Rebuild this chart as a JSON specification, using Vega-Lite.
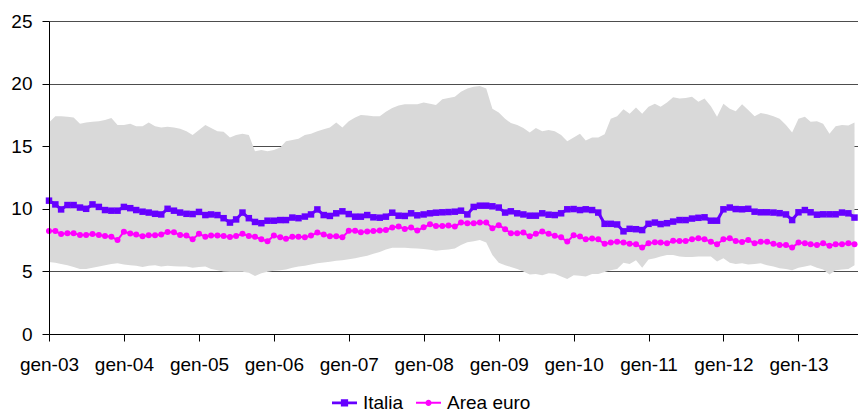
{
  "$schema": "https://vega.github.io/schema/vega-lite/v6.json",
  "width": 809,
  "height": 313,
  "autosize": {"type": "none"},
  "padding": {"left": 49, "top": 21, "right": 0, "bottom": 79},
  "background": "white",
  "config": {
    "view": {"stroke": null},
    "font": "Liberation Sans",
    "axis": {"labelFont": "Liberation Sans", "labelFontSize": 19, "labelColor": "#000000", "domainColor": "#000000", "tickColor": "#000000", "domainWidth": 1, "tickWidth": 1},
    "legend": {
      "direction": "horizontal", "title": null,
      "symbolSize": 625, "labelFontSize": 19, "labelFont": "Liberation Sans", "labelColor": "#000000",
      "labelOffset": 5, "columnPadding": 11, "padding": 0, "offset": 0
    }
  },
  "data": {"values": [
    {"mese": "2003-01-01", "min": 5.75, "max": 16.9, "Italia": 10.65, "Area euro": 8.22},
    {"mese": "2003-02-01", "min": 5.7, "max": 17.4, "Italia": 10.35, "Area euro": 8.22},
    {"mese": "2003-03-01", "min": 5.6, "max": 17.4, "Italia": 9.95, "Area euro": 7.98},
    {"mese": "2003-04-01", "min": 5.5, "max": 17.35, "Italia": 10.3, "Area euro": 8.05},
    {"mese": "2003-05-01", "min": 5.35, "max": 17.3, "Italia": 10.3, "Area euro": 8.05},
    {"mese": "2003-06-01", "min": 5.2, "max": 16.8, "Italia": 10.1, "Area euro": 7.9},
    {"mese": "2003-07-01", "min": 5.2, "max": 16.9, "Italia": 10.0, "Area euro": 7.9},
    {"mese": "2003-08-01", "min": 5.3, "max": 16.95, "Italia": 10.35, "Area euro": 7.98},
    {"mese": "2003-09-01", "min": 5.4, "max": 17.0, "Italia": 10.15, "Area euro": 7.9},
    {"mese": "2003-10-01", "min": 5.5, "max": 17.1, "Italia": 9.9, "Area euro": 7.83},
    {"mese": "2003-11-01", "min": 5.6, "max": 17.25, "Italia": 9.85, "Area euro": 7.77},
    {"mese": "2003-12-01", "min": 5.65, "max": 16.7, "Italia": 9.85, "Area euro": 7.5},
    {"mese": "2004-01-01", "min": 5.55, "max": 16.7, "Italia": 10.15, "Area euro": 8.17},
    {"mese": "2004-02-01", "min": 5.5, "max": 16.8, "Italia": 10.05, "Area euro": 8.03},
    {"mese": "2004-03-01", "min": 5.45, "max": 16.6, "Italia": 9.9, "Area euro": 7.95},
    {"mese": "2004-04-01", "min": 5.35, "max": 16.6, "Italia": 9.77, "Area euro": 7.8},
    {"mese": "2004-05-01", "min": 5.45, "max": 16.9, "Italia": 9.7, "Area euro": 7.88},
    {"mese": "2004-06-01", "min": 5.5, "max": 16.6, "Italia": 9.6, "Area euro": 7.88},
    {"mese": "2004-07-01", "min": 5.4, "max": 16.5, "Italia": 9.55, "Area euro": 7.95},
    {"mese": "2004-08-01", "min": 5.45, "max": 16.55, "Italia": 10.0, "Area euro": 8.15},
    {"mese": "2004-09-01", "min": 5.42, "max": 16.5, "Italia": 9.85, "Area euro": 8.12},
    {"mese": "2004-10-01", "min": 5.4, "max": 16.4, "Italia": 9.7, "Area euro": 7.9},
    {"mese": "2004-11-01", "min": 5.4, "max": 16.2, "Italia": 9.6, "Area euro": 7.86},
    {"mese": "2004-12-01", "min": 5.3, "max": 15.9, "Italia": 9.58, "Area euro": 7.57},
    {"mese": "2005-01-01", "min": 5.35, "max": 16.3, "Italia": 9.75, "Area euro": 8.0},
    {"mese": "2005-02-01", "min": 5.4, "max": 16.7, "Italia": 9.5, "Area euro": 7.77},
    {"mese": "2005-03-01", "min": 5.2, "max": 16.45, "Italia": 9.55, "Area euro": 7.86},
    {"mese": "2005-04-01", "min": 5.1, "max": 16.2, "Italia": 9.5, "Area euro": 7.86},
    {"mese": "2005-05-01", "min": 5.0, "max": 16.15, "Italia": 9.25, "Area euro": 7.83},
    {"mese": "2005-06-01", "min": 4.98, "max": 15.7, "Italia": 8.9, "Area euro": 7.75},
    {"mese": "2005-07-01", "min": 4.98, "max": 15.9, "Italia": 9.15, "Area euro": 7.83},
    {"mese": "2005-08-01", "min": 4.98, "max": 16.0, "Italia": 9.7, "Area euro": 8.0},
    {"mese": "2005-09-01", "min": 4.9, "max": 15.9, "Italia": 9.25, "Area euro": 7.83},
    {"mese": "2005-10-01", "min": 4.63, "max": 14.6, "Italia": 8.95, "Area euro": 7.77},
    {"mese": "2005-11-01", "min": 4.85, "max": 14.7, "Italia": 8.85, "Area euro": 7.57},
    {"mese": "2005-12-01", "min": 4.98, "max": 14.6, "Italia": 9.05, "Area euro": 7.4},
    {"mese": "2006-01-01", "min": 5.05, "max": 14.7, "Italia": 9.05, "Area euro": 7.86},
    {"mese": "2006-02-01", "min": 5.1, "max": 14.9, "Italia": 9.1, "Area euro": 7.72},
    {"mese": "2006-03-01", "min": 5.16, "max": 15.4, "Italia": 9.1, "Area euro": 7.6},
    {"mese": "2006-04-01", "min": 5.3, "max": 15.5, "Italia": 9.3, "Area euro": 7.77},
    {"mese": "2006-05-01", "min": 5.4, "max": 15.6, "Italia": 9.25, "Area euro": 7.77},
    {"mese": "2006-06-01", "min": 5.45, "max": 15.9, "Italia": 9.38, "Area euro": 7.72},
    {"mese": "2006-07-01", "min": 5.55, "max": 16.0, "Italia": 9.55, "Area euro": 7.86},
    {"mese": "2006-08-01", "min": 5.65, "max": 16.2, "Italia": 9.95, "Area euro": 8.1},
    {"mese": "2006-09-01", "min": 5.72, "max": 16.35, "Italia": 9.5, "Area euro": 7.95},
    {"mese": "2006-10-01", "min": 5.78, "max": 16.5, "Italia": 9.43, "Area euro": 7.8},
    {"mese": "2006-11-01", "min": 5.85, "max": 16.9, "Italia": 9.64, "Area euro": 7.8},
    {"mese": "2006-12-01", "min": 5.9, "max": 16.5, "Italia": 9.8, "Area euro": 7.72},
    {"mese": "2007-01-01", "min": 5.98, "max": 17.0, "Italia": 9.58, "Area euro": 8.25},
    {"mese": "2007-02-01", "min": 6.05, "max": 17.3, "Italia": 9.37, "Area euro": 8.25},
    {"mese": "2007-03-01", "min": 6.15, "max": 17.5, "Italia": 9.37, "Area euro": 8.12},
    {"mese": "2007-04-01", "min": 6.25, "max": 17.45, "Italia": 9.5, "Area euro": 8.18},
    {"mese": "2007-05-01", "min": 6.4, "max": 17.4, "Italia": 9.32, "Area euro": 8.23},
    {"mese": "2007-06-01", "min": 6.55, "max": 17.4, "Italia": 9.29, "Area euro": 8.26},
    {"mese": "2007-07-01", "min": 6.75, "max": 17.75, "Italia": 9.37, "Area euro": 8.31},
    {"mese": "2007-08-01", "min": 6.89, "max": 18.05, "Italia": 9.69, "Area euro": 8.5},
    {"mese": "2007-09-01", "min": 6.89, "max": 18.25, "Italia": 9.45, "Area euro": 8.58},
    {"mese": "2007-10-01", "min": 6.89, "max": 18.35, "Italia": 9.43, "Area euro": 8.39},
    {"mese": "2007-11-01", "min": 6.85, "max": 18.35, "Italia": 9.64, "Area euro": 8.5},
    {"mese": "2007-12-01", "min": 6.82, "max": 18.35, "Italia": 9.48, "Area euro": 8.26},
    {"mese": "2008-01-01", "min": 6.78, "max": 18.5, "Italia": 9.55, "Area euro": 8.52},
    {"mese": "2008-02-01", "min": 6.72, "max": 18.4, "Italia": 9.64, "Area euro": 8.76},
    {"mese": "2008-03-01", "min": 6.65, "max": 18.3, "Italia": 9.69, "Area euro": 8.63},
    {"mese": "2008-04-01", "min": 6.7, "max": 18.75, "Italia": 9.72, "Area euro": 8.63},
    {"mese": "2008-05-01", "min": 6.75, "max": 18.85, "Italia": 9.74, "Area euro": 8.66},
    {"mese": "2008-06-01", "min": 6.82, "max": 18.95, "Italia": 9.77, "Area euro": 8.58},
    {"mese": "2008-07-01", "min": 7.1, "max": 19.35, "Italia": 9.85, "Area euro": 8.9},
    {"mese": "2008-08-01", "min": 7.33, "max": 19.6, "Italia": 9.55, "Area euro": 8.85},
    {"mese": "2008-09-01", "min": 7.4, "max": 19.75, "Italia": 10.15, "Area euro": 8.85},
    {"mese": "2008-10-01", "min": 7.5, "max": 19.8, "Italia": 10.25, "Area euro": 8.9},
    {"mese": "2008-11-01", "min": 7.3, "max": 19.6, "Italia": 10.25, "Area euro": 8.9},
    {"mese": "2008-12-01", "min": 6.3, "max": 18.0, "Italia": 10.2, "Area euro": 8.45},
    {"mese": "2009-01-01", "min": 5.7, "max": 17.7, "Italia": 10.1, "Area euro": 8.69},
    {"mese": "2009-02-01", "min": 5.5, "max": 17.2, "Italia": 9.7, "Area euro": 8.37},
    {"mese": "2009-03-01", "min": 5.35, "max": 16.85, "Italia": 9.8, "Area euro": 8.05},
    {"mese": "2009-04-01", "min": 5.2, "max": 16.7, "Italia": 9.64, "Area euro": 8.05},
    {"mese": "2009-05-01", "min": 5.0, "max": 16.45, "Italia": 9.55, "Area euro": 8.1},
    {"mese": "2009-06-01", "min": 4.75, "max": 16.1, "Italia": 9.45, "Area euro": 7.8},
    {"mese": "2009-07-01", "min": 4.8, "max": 16.45, "Italia": 9.45, "Area euro": 8.0},
    {"mese": "2009-08-01", "min": 4.7, "max": 16.2, "Italia": 9.64, "Area euro": 8.18},
    {"mese": "2009-09-01", "min": 4.85, "max": 16.3, "Italia": 9.53, "Area euro": 8.0},
    {"mese": "2009-10-01", "min": 4.82, "max": 16.2, "Italia": 9.5, "Area euro": 7.85},
    {"mese": "2009-11-01", "min": 4.6, "max": 15.9, "Italia": 9.64, "Area euro": 7.72},
    {"mese": "2009-12-01", "min": 4.4, "max": 15.4, "Italia": 9.96, "Area euro": 7.38},
    {"mese": "2010-01-01", "min": 4.7, "max": 15.7, "Italia": 9.98, "Area euro": 7.88},
    {"mese": "2010-02-01", "min": 4.65, "max": 16.0, "Italia": 9.9, "Area euro": 7.78},
    {"mese": "2010-03-01", "min": 4.6, "max": 15.45, "Italia": 9.96, "Area euro": 7.56},
    {"mese": "2010-04-01", "min": 4.8, "max": 15.7, "Italia": 9.9, "Area euro": 7.62},
    {"mese": "2010-05-01", "min": 4.8, "max": 15.7, "Italia": 9.7, "Area euro": 7.56},
    {"mese": "2010-06-01", "min": 4.95, "max": 15.95, "Italia": 8.8, "Area euro": 7.2},
    {"mese": "2010-07-01", "min": 5.1, "max": 17.2, "Italia": 8.8, "Area euro": 7.3},
    {"mese": "2010-08-01", "min": 5.2, "max": 17.4, "Italia": 8.75, "Area euro": 7.37},
    {"mese": "2010-09-01", "min": 5.7, "max": 17.95, "Italia": 8.2, "Area euro": 7.3},
    {"mese": "2010-10-01", "min": 5.6, "max": 17.6, "Italia": 8.4, "Area euro": 7.2},
    {"mese": "2010-11-01", "min": 5.9, "max": 18.1, "Italia": 8.37, "Area euro": 7.17},
    {"mese": "2010-12-01", "min": 5.3, "max": 17.6, "Italia": 8.3, "Area euro": 6.9},
    {"mese": "2011-01-01", "min": 5.95, "max": 18.15, "Italia": 8.8, "Area euro": 7.24},
    {"mese": "2011-02-01", "min": 6.05, "max": 18.4, "Italia": 8.9, "Area euro": 7.33},
    {"mese": "2011-03-01", "min": 6.2, "max": 18.15, "Italia": 8.78, "Area euro": 7.3},
    {"mese": "2011-04-01", "min": 6.3, "max": 18.5, "Italia": 8.85, "Area euro": 7.24},
    {"mese": "2011-05-01", "min": 6.3, "max": 18.9, "Italia": 8.98, "Area euro": 7.45},
    {"mese": "2011-06-01", "min": 6.2, "max": 18.8, "Italia": 9.1, "Area euro": 7.43},
    {"mese": "2011-07-01", "min": 6.15, "max": 18.85, "Italia": 9.1, "Area euro": 7.43},
    {"mese": "2011-08-01", "min": 6.15, "max": 18.95, "Italia": 9.22, "Area euro": 7.56},
    {"mese": "2011-09-01", "min": 6.2, "max": 18.55, "Italia": 9.28, "Area euro": 7.64},
    {"mese": "2011-10-01", "min": 6.2, "max": 18.8, "Italia": 9.32, "Area euro": 7.56},
    {"mese": "2011-11-01", "min": 6.2, "max": 18.2, "Italia": 9.05, "Area euro": 7.37},
    {"mese": "2011-12-01", "min": 5.8, "max": 17.35, "Italia": 9.05, "Area euro": 7.17},
    {"mese": "2012-01-01", "min": 6.05, "max": 18.4, "Italia": 9.96, "Area euro": 7.56},
    {"mese": "2012-02-01", "min": 5.7, "max": 18.0, "Italia": 10.1, "Area euro": 7.64},
    {"mese": "2012-03-01", "min": 5.6, "max": 17.8, "Italia": 9.98, "Area euro": 7.43},
    {"mese": "2012-04-01", "min": 5.65, "max": 18.35, "Italia": 9.96, "Area euro": 7.35},
    {"mese": "2012-05-01", "min": 5.55, "max": 17.9, "Italia": 10.0, "Area euro": 7.5},
    {"mese": "2012-06-01", "min": 5.6, "max": 17.4, "Italia": 9.77, "Area euro": 7.25},
    {"mese": "2012-07-01", "min": 5.65, "max": 17.65, "Italia": 9.72, "Area euro": 7.37},
    {"mese": "2012-08-01", "min": 5.5, "max": 17.55, "Italia": 9.72, "Area euro": 7.37},
    {"mese": "2012-09-01", "min": 5.4, "max": 17.4, "Italia": 9.7, "Area euro": 7.2},
    {"mese": "2012-10-01", "min": 5.25, "max": 17.2, "Italia": 9.65, "Area euro": 7.1},
    {"mese": "2012-11-01", "min": 5.2, "max": 16.7, "Italia": 9.55, "Area euro": 7.1},
    {"mese": "2012-12-01", "min": 5.1, "max": 16.1, "Italia": 9.1, "Area euro": 6.9},
    {"mese": "2013-01-01", "min": 5.3, "max": 17.2, "Italia": 9.72, "Area euro": 7.3},
    {"mese": "2013-02-01", "min": 5.4, "max": 17.35, "Italia": 9.9, "Area euro": 7.24},
    {"mese": "2013-03-01", "min": 5.5, "max": 16.95, "Italia": 9.72, "Area euro": 7.17},
    {"mese": "2013-04-01", "min": 5.3, "max": 17.0, "Italia": 9.53, "Area euro": 7.1},
    {"mese": "2013-05-01", "min": 5.15, "max": 16.8, "Italia": 9.56, "Area euro": 7.24},
    {"mese": "2013-06-01", "min": 4.75, "max": 16.0, "Italia": 9.56, "Area euro": 7.05},
    {"mese": "2013-07-01", "min": 5.1, "max": 16.6, "Italia": 9.56, "Area euro": 7.17},
    {"mese": "2013-08-01", "min": 5.15, "max": 16.7, "Italia": 9.7, "Area euro": 7.17},
    {"mese": "2013-09-01", "min": 5.2, "max": 16.65, "Italia": 9.64, "Area euro": 7.24},
    {"mese": "2013-10-01", "min": 5.5, "max": 16.9, "Italia": 9.3, "Area euro": 7.17}
  ]},
  "encoding": {
    "x": {
      "field": "mese",
      "type": "temporal",
      "scale": {"type": "utc", "domain": [{"year": 2003, "month": 1, "date": 1, "utc": true}, {"year": 2013, "month": 10, "date": 18, "utc": true}]},
      "axis": {
        "title": null,
        "tickCount": {"interval": "year", "step": 1},
        "labelExpr": "'gen-' + utcFormat(datum.value, '%y')",
        "grid": false,
        "tickSize": 7,
        "labelPadding": 14,
        "labelFlush": false,
        "labelOverlap": false,
        "zindex": 1
      }
    }
  },
  "layer": [
    {
      "mark": {"type": "area", "color": "#d9d9d9", "opacity": 1},
      "encoding": {
        "y": {
          "field": "max",
          "type": "quantitative",
          "scale": {"domain": [0, 25], "nice": false},
          "axis": {"orient": "left", "title": null, "grid": true, "gridColor": "#4d4d4d", "gridWidth": 1, "domain": false, "ticks": false, "labels": false, "values": [5, 10, 15, 20, 25], "zindex": 0}
        },
        "y2": {"field": "min"}
      }
    },
    {
      "transform": [{"fold": ["Italia", "Area euro"], "as": ["serie", "valore"]}],
      "encoding": {
        "y": {
          "field": "valore",
          "type": "quantitative",
          "scale": {"domain": [0, 25], "nice": false},
          "axis": {"orient": "left", "title": null, "grid": false, "values": [0, 5, 10, 15, 20, 25], "tickSize": 7, "labelPadding": 10, "zindex": 1}
        }
      },
      "layer": [
        {
          "transform": [{"filter": {"field": "serie", "equal": "Italia"}}],
          "mark": {"type": "line", "strokeWidth": 3, "color": "#6600ff"}
        },
        {
          "transform": [{"filter": {"field": "serie", "equal": "Area euro"}}],
          "mark": {"type": "line", "strokeWidth": 2, "color": "#ff00ff"}
        },
        {
          "transform": [{"filter": {"field": "serie", "equal": "Italia"}}],
          "mark": {"type": "point", "shape": "square", "filled": true, "opacity": 1, "size": 42, "color": "#6600ff"}
        },
        {
          "transform": [{"filter": {"field": "serie", "equal": "Area euro"}}],
          "mark": {"type": "point", "shape": "circle", "filled": true, "opacity": 1, "size": 36, "color": "#ff00ff"}
        },
        {
          "transform": [{"filter": {"field": "valore", "gt": 1000}}],
          "mark": {"type": "point", "filled": true, "opacity": 1},
          "encoding": {
            "color": {
              "field": "serie", "type": "nominal",
              "scale": {"domain": ["Italia", "Area euro"], "range": ["#6600ff", "#ff00ff"]},
              "legend": {"orient": "none", "legendX": 282, "legendY": 368, "direction": "horizontal", "title": null}
            },
            "shape": {
              "field": "serie", "type": "nominal",
              "scale": {"domain": ["Italia", "Area euro"], "range": ["M-1,-0.11H1V0.11H-1Z M-0.29,-0.29H0.29V0.29H-0.29Z", "M-1,-0.08H1V0.08H-1Z M0.25,0A0.25,0.25,0,1,1,-0.25,0A0.25,0.25,0,1,1,0.25,0Z"]},
              "legend": {"orient": "none", "legendX": 282, "legendY": 368, "direction": "horizontal", "title": null}
            }
          }
        }
      ]
    }
  ],
  "resolve": {"axis": {"y": "independent"}}
}
